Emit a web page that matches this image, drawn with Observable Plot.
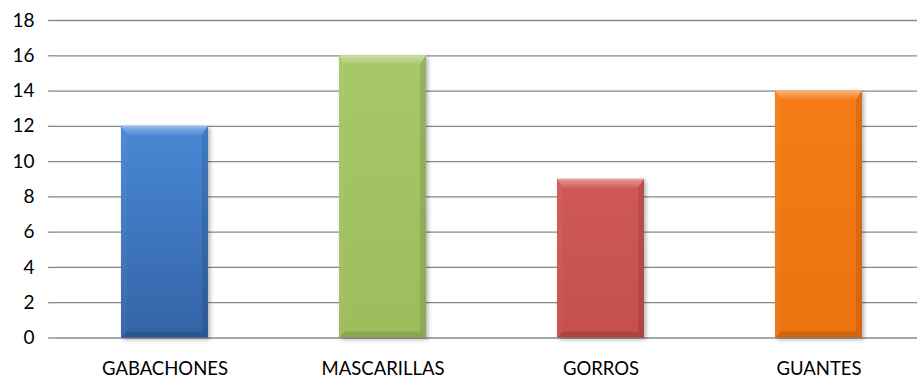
<!DOCTYPE html>
<html>
<head>
<meta charset="utf-8">
<script src="https://cdn.jsdelivr.net/npm/d3@7"></script>
<script src="https://cdn.jsdelivr.net/npm/@observablehq/plot@0.6"></script>
<style>
  html, body { margin: 0; padding: 0; background: #fff; overflow: hidden; }
  #chart svg { display: block; }
</style>
</head>
<body>
<div id="chart"></div>
<script>
// Material counts per category
const categories = ["GABACHONES", "MASCARILLAS", "GORROS", "GUANTES"];
const values = [12, 16, 9, 14];
const yTicks = [0, 2, 4, 6, 8, 10, 12, 14, 16, 18];

// Bar gradient colours (top → bottom)
const barTop = ["#4888d5", "#a7c868", "#d05956", "#f57c16"];
const barBottom = ["#3363a6", "#9dbd5d", "#c44f4c", "#ec7210"];

const gridColor = "#888888";
const data = categories.map((category, i) => ({category, value: values[i], i}));

const SVGNS = "http://www.w3.org/2000/svg";

function svgEl(doc, tag, attrs) {
  const el = doc.createElementNS(SVGNS, tag);
  for (const [k, v] of Object.entries(attrs)) el.setAttribute(k, v);
  return el;
}

function linearGrad(doc, id, stops) {
  const g = svgEl(doc, "linearGradient", {id, x1: 0, y1: 0, x2: 0, y2: 1});
  for (const [offset, color, opacity] of stops) {
    g.appendChild(svgEl(doc, "stop", {offset, "stop-color": color, "stop-opacity": opacity ?? 1}));
  }
  return g;
}

// Beveled bars: gradient body plus light top edge, shaded sides and bottom
function bevelBars(index, scales, channels, dimensions, context, next) {
  const g = next(index, scales, channels, dimensions, context);
  const doc = context.document;
  const defs = svgEl(doc, "defs", {});
  defs.appendChild(linearGrad(doc, "bevel-top", [[0, "#ffffff", 0.5], [0.3, "#ffffff", 0.28], [1, "#ffffff", 0.06]]));
  g.insertBefore(defs, g.firstChild);
  g.style.filter = "drop-shadow(2px 2px 2px rgba(0,0,0,0.3))";
  const rects = Array.from(g.querySelectorAll("rect"));
  rects.forEach((r, k) => {
    const d = data[index[k]];
    const gid = `bar-grad-${d.i}`;
    defs.appendChild(linearGrad(doc, gid, [[0, barTop[d.i]], [1, barBottom[d.i]]]));
    r.setAttribute("fill", `url(#${gid})`);
    const x = +r.getAttribute("x"), y = +r.getAttribute("y");
    const w = +r.getAttribute("width"), h = +r.getAttribute("height");
    const t = 9, s = 6, b = 6;
    const pts = (arr) => arr.map(p => p.join(",")).join(" ");
    const parent = r.parentNode;
    const after = r.nextSibling;
    const polys = [
      [[[x, y], [x + w, y], [x + w - s, y + t], [x + s, y + t]], "url(#bevel-top)", 1],
      [[[x, y], [x + s, y + t], [x + s, y + h - b], [x, y + h]], "#ffffff", 0.04],
      [[[x + w, y], [x + w - s, y + t], [x + w - s, y + h - b], [x + w, y + h]], "#000000", 0.1],
      [[[x, y + h], [x + s, y + h - b], [x + w - s, y + h - b], [x + w, y + h]], "#000000", 0.12]
    ];
    for (const [p, fill, op] of polys) {
      parent.insertBefore(svgEl(doc, "polygon", {points: pts(p), fill, "fill-opacity": op}), after);
    }
  });
  return g;
}

// Vertical axis line and category boundary ticks along the baseline
function bandEdges(index, scales, channels, dimensions, context) {
  const x = scales.x, y = scales.y;
  const step = x.step(), bw = x.bandwidth();
  const edges = categories.map(c => x(c) - (step - bw) / 2);
  edges.push(x(categories[categories.length - 1]) + bw + (step - bw) / 2);
  const y0 = y(0);
  const g = d3.create("svg:g").attr("stroke", gridColor).attr("stroke-width", 1.3);
  g.append("line")
    .attr("x1", edges[0]).attr("x2", edges[0])
    .attr("y1", y(yTicks[yTicks.length - 1])).attr("y2", y0);
  g.selectAll("line.edge").data(edges).join("line")
    .attr("class", "edge")
    .attr("x1", d => d).attr("x2", d => d)
    .attr("y1", y0).attr("y2", y0 + 6);
  return g.node();
}

const chart = Plot.plot({
  width: 917,
  height: 379,
  marginLeft: 55,
  marginRight: 0,
  marginTop: 20,
  marginBottom: 41.5,
  style: {fontFamily: "Lato, 'Open Sans', sans-serif", fontSize: "19px", color: "#000", background: "#fff", overflow: "hidden"},
  x: {domain: categories, range: [55, 929], paddingInner: 0.6, paddingOuter: 0.3, label: null},
  y: {domain: [0, 18], label: null},
  marks: [
    Plot.ruleY(yTicks, {stroke: gridColor, strokeWidth: 1.3}),
    Plot.axisY({ticks: yTicks, tickSize: 7, tickPadding: 14, stroke: gridColor, strokeWidth: 1.3, fill: "#000", fontSize: 19, label: null}),
    Plot.ruleX([0], {render: bandEdges}),
    Plot.barY(data, {x: "category", y: "value", fill: barTop[0], render: bevelBars}),
    Plot.axisX({tickSize: 0, tickPadding: 24, fill: "#000", fontSize: 18.5, label: null})
  ]
});

document.getElementById("chart").appendChild(chart);
</script>
</body>
</html>
